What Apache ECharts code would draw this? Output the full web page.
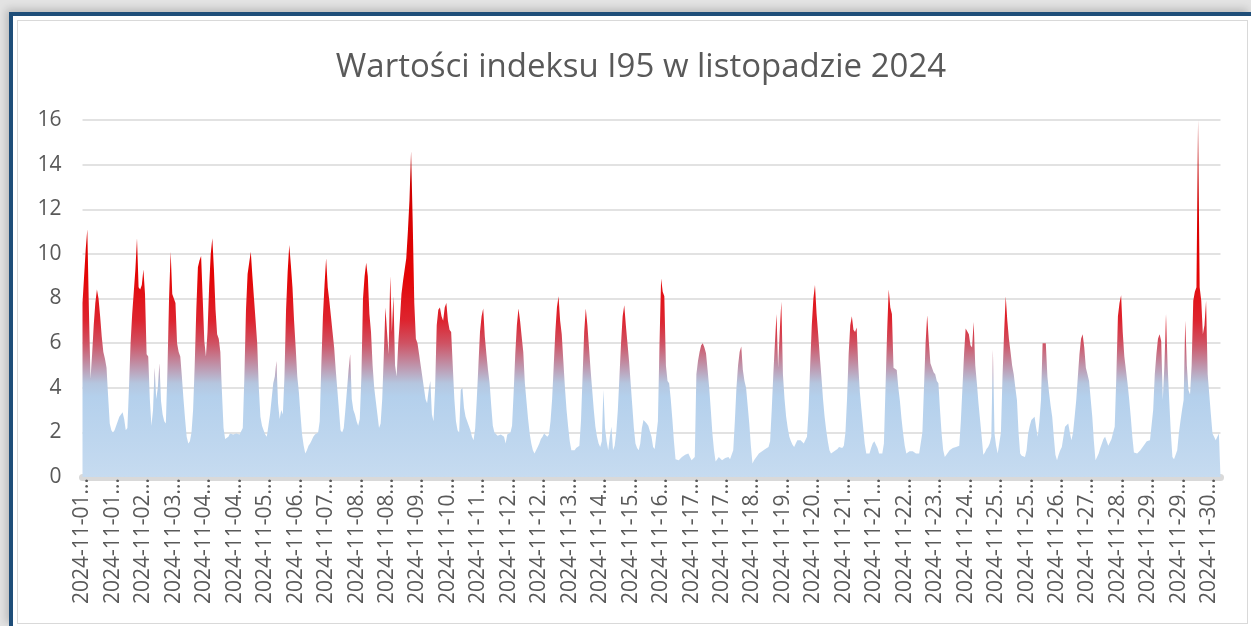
<!DOCTYPE html>
<html>
<head>
<meta charset="utf-8">
<title>Indeks I95 – listopad 2024</title>
<script src="https://cdn.jsdelivr.net/npm/echarts@6/dist/echarts.min.js"></script>
<style>
  html, body { margin: 0; padding: 0; width: 1251px; height: 626px; overflow: hidden; background: #e3e3e3; }
  #frame {
    position: absolute; left: 9px; top: 12px; width: 1242px; height: 614px;
    border-top: 4px solid #1f4e79; border-left: 4px solid #1f4e79;
    background: #ffffff; box-sizing: border-box;
    box-shadow: -3px -3px 8px rgba(0,0,0,0.18);
  }
  #inner {
    position: absolute; left: 17px; top: 20px; width: 1231px; height: 604px;
    border: 1px solid #d9d9d9; box-sizing: border-box; background: #ffffff;
  }
  #chart { position: absolute; left: 0; top: 0; width: 1251px; height: 626px; }
</style>
</head>
<body>
<div id="frame"></div>
<div id="inner"></div>
<div id="chart"></div>
<script>
// Title
const titleText = 'Wartości indeksu I95 w listopadzie 2024';

// Y axis ticks
const yTicks = { min: 0, max: 16, step: 2 };

// Hours absent from the hourly series
const missingHours = [
  '2024-11-05 04:00', '2024-11-11 10:00', '2024-11-13 12:00',
  '2024-11-15 04:00', '2024-11-18 12:00', '2024-11-22 16:00',
  '2024-11-26 20:00', '2024-11-28 12:00', '2024-11-30 04:00'
];

// Hourly timestamps of November 2024 (categories)
const categories = [];
for (let d = 1; d <= 30; d++) {
  for (let h = 0; h < 24; h++) {
    const s = '2024-11-' + String(d).padStart(2, '0') + ' ' + String(h).padStart(2, '0') + ':00';
    if (missingHours.indexOf(s) === -1) categories.push(s);
  }
}

// Every 19th hour gets a tick label
const labelEvery = 19;

// Hourly I95 values
const values = [
  7.8, 9.0, 10.2, 11.1, 7.5, 4.4, 5.5, 6.8, 7.8, 8.4,
  8.0, 7.2, 6.3, 5.6, 5.3, 4.9, 3.6, 2.4, 2.1, 2.0,
  2.1, 2.3, 2.5, 2.7, 2.8, 2.9, 2.6, 2.1, 2.2, 4.0,
  6.0, 7.3, 8.3, 9.3, 10.7, 8.5, 8.4, 8.6, 9.3, 8.2,
  5.5, 5.4, 3.5, 2.3, 3.0, 4.9, 3.5, 4.0, 5.1, 3.4,
  2.8, 2.5, 2.4, 4.8, 8.0, 10.1, 8.2, 8.0, 7.8, 6.0,
  5.6, 5.4, 4.5, 3.5, 2.6, 1.8, 1.5, 1.6, 2.0, 3.0,
  5.0, 7.5, 9.4, 9.7, 9.9, 8.0, 6.1, 5.4, 6.5, 8.5,
  10.0, 10.7, 9.3, 7.5, 6.4, 6.2, 5.6, 3.8, 2.2, 1.7,
  1.65, 1.8, 1.95, 1.95, 1.9, 1.9, 1.95, 1.95, 1.9, 1.95,
  2.2, 4.5, 7.5, 9.1, 9.6, 10.1, 9.0, 8.0, 7.0, 6.0,
  4.0, 2.7, 2.3, 2.1, 1.9, 1.8, 1.8, 2.8, 3.5, 4.2,
  4.5, 5.2, 3.3, 2.6, 3.0, 2.8, 4.5, 7.5, 9.2, 10.4,
  9.5, 8.5, 7.0, 5.8, 4.5, 3.8, 2.8, 1.9, 1.4, 1.05,
  1.2, 1.4, 1.5, 1.65, 1.8, 1.9, 1.95, 2.0, 2.5, 5.0,
  7.2, 8.6, 9.8, 8.5, 7.9, 7.2, 6.5, 5.8, 4.8, 3.9,
  3.0, 2.1, 2.0, 2.2, 3.0, 3.9, 4.8, 5.5, 3.5, 3.0,
  2.8, 2.5, 2.3, 2.6, 4.5, 8.0, 9.0, 9.6, 9.0, 7.3,
  6.5, 5.0, 4.0, 3.4, 2.8, 2.2, 2.4, 3.5, 5.5, 7.6,
  6.5, 5.5, 9.0, 6.5, 8.1, 5.0, 4.5, 6.0, 7.0, 8.2,
  8.8, 9.3, 9.8, 11.0, 12.4, 14.6, 11.5, 7.8, 6.2, 6.0,
  5.5, 5.0, 4.5, 4.0, 3.5, 3.3, 3.9, 4.3, 2.8, 2.5,
  4.0, 6.8, 7.5, 7.6, 7.2, 7.0, 7.6, 7.8, 7.0, 6.6,
  6.5, 5.0, 3.5, 2.5, 2.1, 2.0, 3.9, 4.0, 3.1, 2.7,
  2.5, 2.3, 2.1, 1.8, 1.65, 2.2, 3.5, 5.0, 6.5, 7.2,
  7.55, 6.3, 5.5, 4.8, 4.2, 3.2, 2.3, 2.0, 1.95, 1.85,
  1.8, 1.9, 1.95, 1.8, 1.5, 1.9, 1.95, 2.0, 2.3, 3.8,
  5.5, 6.8, 7.55, 7.0, 6.3, 5.6, 4.2, 3.4, 2.6, 1.95,
  1.5, 1.2, 1.05, 1.2, 1.35, 1.5, 1.7, 1.8, 1.95, 1.9,
  1.8, 1.9, 2.5, 3.5, 5.0, 6.5, 7.6, 8.1, 7.0, 6.4,
  5.2, 4.0, 3.0, 2.25, 1.6, 1.2, 1.15, 1.2, 1.3, 1.35,
  1.4, 2.5, 4.5, 6.5, 7.55, 6.8, 5.8, 4.8, 3.9, 3.0,
  2.25, 1.8, 1.5, 1.35, 1.6, 3.9, 2.2, 1.6, 1.2, 1.8,
  2.25, 1.2, 1.4, 2.0, 3.0, 4.5, 6.0, 7.2, 7.7, 6.8,
  6.0, 5.2, 4.2, 3.2, 2.2, 1.5, 1.3, 1.2, 1.5, 2.2,
  2.55, 2.5, 2.4, 2.3, 2.25, 1.8, 1.35, 1.25, 1.2, 2.5,
  6.0, 8.9, 8.3, 8.1, 5.0, 4.3, 4.2, 3.5, 2.6, 1.6,
  0.8, 0.75, 0.75, 0.8, 0.9, 0.95, 1.0, 1.05, 1.05, 0.9,
  0.75, 0.8, 0.9, 4.6, 5.2, 5.6, 5.9, 6.0, 5.8, 5.55,
  4.8, 4.0, 3.0, 1.95, 1.2, 0.7, 0.8, 0.9, 0.85, 0.75,
  0.8, 0.85, 0.9, 0.9, 0.8, 0.75, 1.2, 2.5, 4.0, 5.0,
  5.6, 5.85, 4.8, 4.3, 4.0, 3.2, 2.4, 1.4, 0.6, 0.75,
  0.85, 0.95, 1.05, 1.1, 1.15, 1.2, 1.25, 1.3, 1.35, 1.6,
  3.0, 4.6, 6.0, 7.3, 4.9, 6.5, 7.85, 4.6, 3.5, 2.7,
  2.2, 1.8, 1.6, 1.45, 1.35, 1.5, 1.65, 1.7, 1.65, 1.6,
  1.5, 1.5, 1.8, 3.0, 5.0, 6.8, 8.0, 8.6, 7.3, 6.4,
  5.4, 4.5, 3.5, 2.7, 2.1, 1.6, 1.2, 1.05, 1.1, 1.15,
  1.2, 1.25, 1.35, 1.3, 1.3, 1.4, 2.0, 3.5, 5.5, 6.8,
  7.2, 6.6, 6.5, 6.7, 5.0, 3.8, 3.0, 2.25, 1.5, 1.05,
  1.05, 1.05, 1.3, 1.5, 1.6, 1.65, 1.3, 1.05, 1.0, 1.05,
  1.5, 4.0, 6.5, 8.4, 7.6, 7.3, 4.9, 4.85, 4.8, 4.0,
  3.4, 2.6, 1.95, 1.4, 1.05, 1.1, 1.15, 1.2, 1.15, 1.1,
  1.05, 1.05, 1.05, 1.1, 2.0, 4.0, 6.0, 7.25, 6.1, 5.1,
  4.9, 4.7, 4.6, 4.3, 4.2, 3.0, 1.95, 1.2, 0.9, 1.0,
  1.1, 1.2, 1.25, 1.3, 1.35, 1.35, 1.35, 1.4, 2.5, 4.0,
  5.5, 6.65, 6.6, 6.4, 5.9, 5.8, 6.95, 5.0, 4.2, 3.3,
  2.55, 1.8, 1.0, 1.1, 1.25, 1.35, 1.5, 1.8, 5.7, 1.95,
  1.4, 1.05, 1.1, 2.0, 4.5, 6.5, 8.1, 7.0, 6.2, 5.6,
  5.0, 4.6, 4.0, 3.45, 2.0, 1.05, 0.95, 0.9, 0.9, 1.2,
  1.95, 2.3, 2.55, 2.6, 2.7, 2.2, 1.8, 2.5, 3.45, 6.0,
  6.0, 6.0, 4.5, 3.8, 3.2, 2.7, 1.8, 1.0, 0.75, 1.0,
  1.2, 1.35, 1.8, 2.25, 2.3, 2.4, 2.0, 1.65, 2.0, 2.7,
  3.45, 4.5, 5.5, 6.2, 6.4, 5.8, 4.9, 4.6, 4.3, 3.5,
  2.7, 1.6, 0.75, 0.9, 1.05, 1.3, 1.5, 1.7, 1.8, 1.6,
  1.4, 1.35, 1.7, 2.0, 2.25, 4.5, 7.2, 7.8, 8.15, 6.5,
  5.4, 4.8, 4.2, 3.5, 2.7, 1.8, 1.1, 1.05, 1.05, 1.1,
  1.2, 1.3, 1.35, 1.5, 1.6, 1.65, 1.65, 1.65, 3.0, 4.6,
  5.5, 6.2, 6.4, 6.1, 3.45, 5.0, 7.3, 5.0, 3.45, 2.0,
  0.9, 0.8, 0.75, 1.2, 1.95, 2.5, 3.0, 3.45, 7.0, 5.0,
  3.9, 3.7, 5.0, 7.9, 8.3, 8.5, 16.0, 8.5, 7.9, 6.4,
  6.8, 7.9, 4.6, 3.7, 2.8, 1.95, 1.8, 1.65, 1.7, 1.95,
  2.0
];

const FONT = '"Open Sans", "Noto Sans", sans-serif';
const TEXT_COLOR = '#595959';

const chart = echarts.init(document.getElementById('chart'), null, { renderer: 'canvas' });

// Plot rectangle in page pixels
const plot = { left: 82.5, right: 30.5, top: 120, bottom: 149 };
const plotTopY = plot.top;
const plotBottomY = 626 - plot.bottom;

// Blue below ~4, blending to red above ~6 (global coordinates over the value range)
const off = v => (yTicks.max - v) / (yTicks.max - yTicks.min);
const fill = new echarts.graphic.LinearGradient(0, plotTopY, 0, plotBottomY, [
  { offset: off(16), color: '#b30000' },
  { offset: off(12), color: '#d60000' },
  { offset: off(9), color: '#e40505' },
  { offset: off(7), color: '#dd2530' },
  { offset: off(6), color: '#cf5263' },
  { offset: off(5), color: '#bf93aa' },
  { offset: off(4.2), color: '#b5c6df' },
  { offset: off(3.6), color: '#b4d0ec' },
  { offset: off(0), color: '#c6dbf0' }
], true);

chart.setOption({
  animation: false,
  backgroundColor: 'transparent',
  title: {
    text: titleText,
    left: 636,
    top: 46,
    textAlign: 'center',
    textStyle: { fontFamily: FONT, fontSize: 33, fontWeight: 'normal', color: TEXT_COLOR }
  },
  grid: { left: plot.left, right: plot.right, top: plot.top, bottom: plot.bottom, containLabel: false },
  xAxis: {
    type: 'category',
    data: categories,
    boundaryGap: false,
    offset: 4,
    axisLine: { show: true, lineStyle: { color: '#d9d9d9', width: 7 } },
    axisTick: { show: false },
    splitLine: { show: false },
    axisLabel: {
      interval: labelEvery - 1,
      rotate: 90,
      margin: -3,
      fontFamily: FONT,
      fontSize: 21,
      color: TEXT_COLOR,
      formatter: v => v.slice(0, 10) + '...'
    }
  },
  yAxis: {
    type: 'value',
    min: yTicks.min,
    max: yTicks.max,
    interval: yTicks.step,
    axisLine: { show: false },
    axisTick: { show: false },
    splitLine: { lineStyle: { color: '#d9d9d9', width: 1.5 } },
    axisLabel: { fontFamily: FONT, fontSize: 21, color: TEXT_COLOR, margin: 21 }
  },
  series: [{
    name: 'I95',
    type: 'line',
    data: values,
    symbol: 'none',
    showSymbol: false,
    lineStyle: { width: 0, opacity: 0 },
    areaStyle: { opacity: 1, color: fill },
    z: 3
  }]
});
</script>
</body>
</html>
